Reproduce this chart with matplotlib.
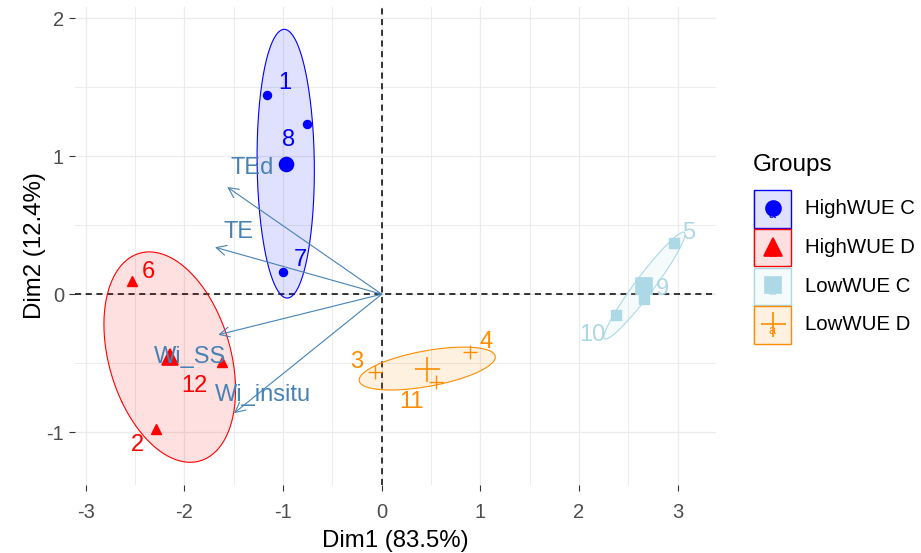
import numpy as np
import matplotlib
matplotlib.use("Agg")
import matplotlib.pyplot as plt
from matplotlib.patches import Rectangle

plt.rcParams['font.family'] = ['Liberation Sans', 'DejaVu Sans']
plt.rcParams['axes.unicode_minus'] = False

# individuals (PCA scores)
obs_ids = ["1", "8", "7", "6", "2", "12", "5", "9", "10", "3", "4", "11"]
obs_group = ["HighWUE C"] * 3 + ["HighWUE D"] * 3 + ["LowWUE C"] * 3 + ["LowWUE D"] * 3
dim1 = [-1.166, -0.757, -0.997, -2.536, -2.289, -1.623, 2.960, 2.656, 2.378, -0.067, 0.897, 0.555]
dim2 = [1.442, 1.234, 0.159, 0.099, -0.978, -0.488, 0.372, -0.036, -0.150, -0.565, -0.418, -0.633]

# variables (arrows)
var_names = ["TEd", "TE", "Wi_SS", "Wi_insitu"]
var_dim1 = [-1.566, -1.690, -1.657, -1.498]
var_dim2 = [0.776, 0.340, -0.294, -0.862]

group_names = ["HighWUE C", "HighWUE D", "LowWUE C", "LowWUE D"]
x_ticks = [-3, -2, -1, 0, 1, 2, 3]
y_ticks = [-1, 0, 1, 2]

# styles
colors = {"HighWUE C": "#0000FF", "HighWUE D": "#FF0000",
          "LowWUE C": "#ADD8E6", "LowWUE D": "#FF8C00"}
markers = {"HighWUE C": "o", "HighWUE D": "^", "LowWUE C": "s", "LowWUE D": "+"}
small_ms = {"o": 5.8, "^": 6.5, "s": 6.5, "+": 9.5}
big_ms = {"o": 10.0, "^": 11.0, "s": 11.0, "+": 18.0}
legend_ms = {"o": 10.8, "^": 12.5, "s": 11.5, "+": 18.0}
arrow_col = "#4682B4"

# repelled label offsets, in pixels
obs_offsets = {"1": (18, 12), "8": (-18, -16), "7": (17, 12), "6": (17, 9),
               "2": (-19, -16), "12": (-27, -24), "5": (15, 10), "9": (19, 10),
               "10": (-24, -20), "3": (-18, 10), "4": (16, 10), "11": (-25, -20)}
var_offsets = {"TEd": (25, 19), "TE": (24, 15), "Wi_SS": (-28, -22), "Wi_insitu": (29, 18)}


def conf_ellipse(x, y, level=0.95, n_pts=200):
    pts = np.column_stack([x, y])
    centre = pts.mean(axis=0)
    cov = np.cov(pts, rowvar=False) / len(pts)
    t = np.sqrt(-2 * np.log(1 - level))
    vals, vecs = np.linalg.eigh(cov)
    theta = np.linspace(0, 2 * np.pi, n_pts)
    circle = np.column_stack([np.cos(theta), np.sin(theta)])
    return centre + t * circle @ (vecs * np.sqrt(vals)).T


W, H = 921, 553
fig = plt.figure(figsize=(W / 100, H / 100), dpi=100)
px_l, px_r, px_t, px_b = 75, 716, 7, 485
ax = fig.add_axes([px_l / W, 1 - px_b / H, (px_r - px_l) / W, (px_b - px_t) / H])

ax.set_xlim(-3.11, 3.39)
ax.set_ylim(-1.382, 2.08)
ax.set_xticks(x_ticks)
ax.set_yticks(y_ticks)
ax.set_xticks(np.arange(-2.5, 3.0, 1.0), minor=True)
ax.set_yticks([-0.5, 0.5, 1.5], minor=True)
ax.grid(which="major", color="#EBEBEB", lw=0.9)
ax.grid(which="minor", color="#EBEBEB", lw=0.65)
ax.set_axisbelow(True)
for s in ax.spines.values():
    s.set_visible(False)
ax.tick_params(which="major", length=4.5, width=0.8, color="#333333",
               labelsize=14.5, labelcolor="#4D4D4D", pad=3.5)
ax.tick_params(axis="x", which="major", pad=8.5)
ax.tick_params(which="minor", length=0)
ax.set_xlabel("Dim1 (83.5%)", fontsize=17.3, labelpad=5.5)
ax.set_ylabel("Dim2 (12.4%)", fontsize=17.3, labelpad=0)

ax.axhline(0, color="black", lw=1.1, ls=(0, (4, 3)), zorder=2)
ax.axvline(0, color="black", lw=1.1, ls=(0, (4, 3)), zorder=2)

d1 = np.array(dim1)
d2 = np.array(dim2)
grp = np.array(obs_group)
for g in group_names:
    m = grp == g
    c = colors[g]
    mk = markers[g]
    ell = conf_ellipse(d1[m], d2[m])
    ax.fill(ell[:, 0], ell[:, 1], color=c, alpha=0.12, lw=0, zorder=3)
    ax.plot(ell[:, 0], ell[:, 1], color=c, lw=0.8, zorder=4)
    ax.plot(d1[m], d2[m], ls="none", marker=mk, ms=small_ms[mk], color=c,
            mew=1.0, zorder=5)
    ax.plot(d1[m].mean(), d2[m].mean(), ls="none", marker=mk, ms=big_ms[mk],
            color=c, mew=1.2, zorder=5)

for lab, x, y, g in zip(obs_ids, dim1, dim2, obs_group):
    ax.annotate(lab, (x, y), xytext=obs_offsets[lab], textcoords="offset pixels",
                ha="center", va="center", fontsize=17, color=colors[g], zorder=6)

for name, x, y in zip(var_names, var_dim1, var_dim2):
    ax.annotate("", xy=(x, y), xytext=(0, 0),
                arrowprops=dict(arrowstyle="->", color=arrow_col, lw=0.8,
                                shrinkA=0, shrinkB=0, mutation_scale=18), zorder=7)
    ax.annotate(name, (x, y), xytext=var_offsets[name], textcoords="offset pixels",
                ha="center", va="center", fontsize=17, color=arrow_col, zorder=7)

# legend, drawn in pixel space
lax = fig.add_axes([0, 0, 1, 1])
lax.set_xlim(0, W)
lax.set_ylim(H, 0)
lax.axis("off")
lax.text(753, 165, "Groups", fontsize=17.5, ha="left", va="center", color="black")
key_top, key_h, key_x, key_w = 189.5, 38.7, 753, 39
for i, g in enumerate(group_names):
    c = colors[g]
    mk = markers[g]
    y0 = key_top + i * key_h
    cy = y0 + key_h / 2
    cx = key_x + key_w / 2
    lax.add_patch(Rectangle((key_x, y0), key_w, key_h, facecolor=c, alpha=0.12, lw=0))
    lax.add_patch(Rectangle((key_x + 0.6, y0 + 0.6), key_w - 1.2, key_h - 1.2,
                            facecolor="none", edgecolor=c, lw=1.0))
    lax.text(cx - 1, cy + 6, "a", fontsize=9, color=c, ha="center", va="center")
    lax.plot(cx, cy - 1, ls="none", marker=mk, ms=legend_ms[mk], color=c, mew=1.2)
    lax.text(805, cy, g, fontsize=14.7, ha="left", va="center", color="black")

fig.savefig("out.png", dpi=100)
